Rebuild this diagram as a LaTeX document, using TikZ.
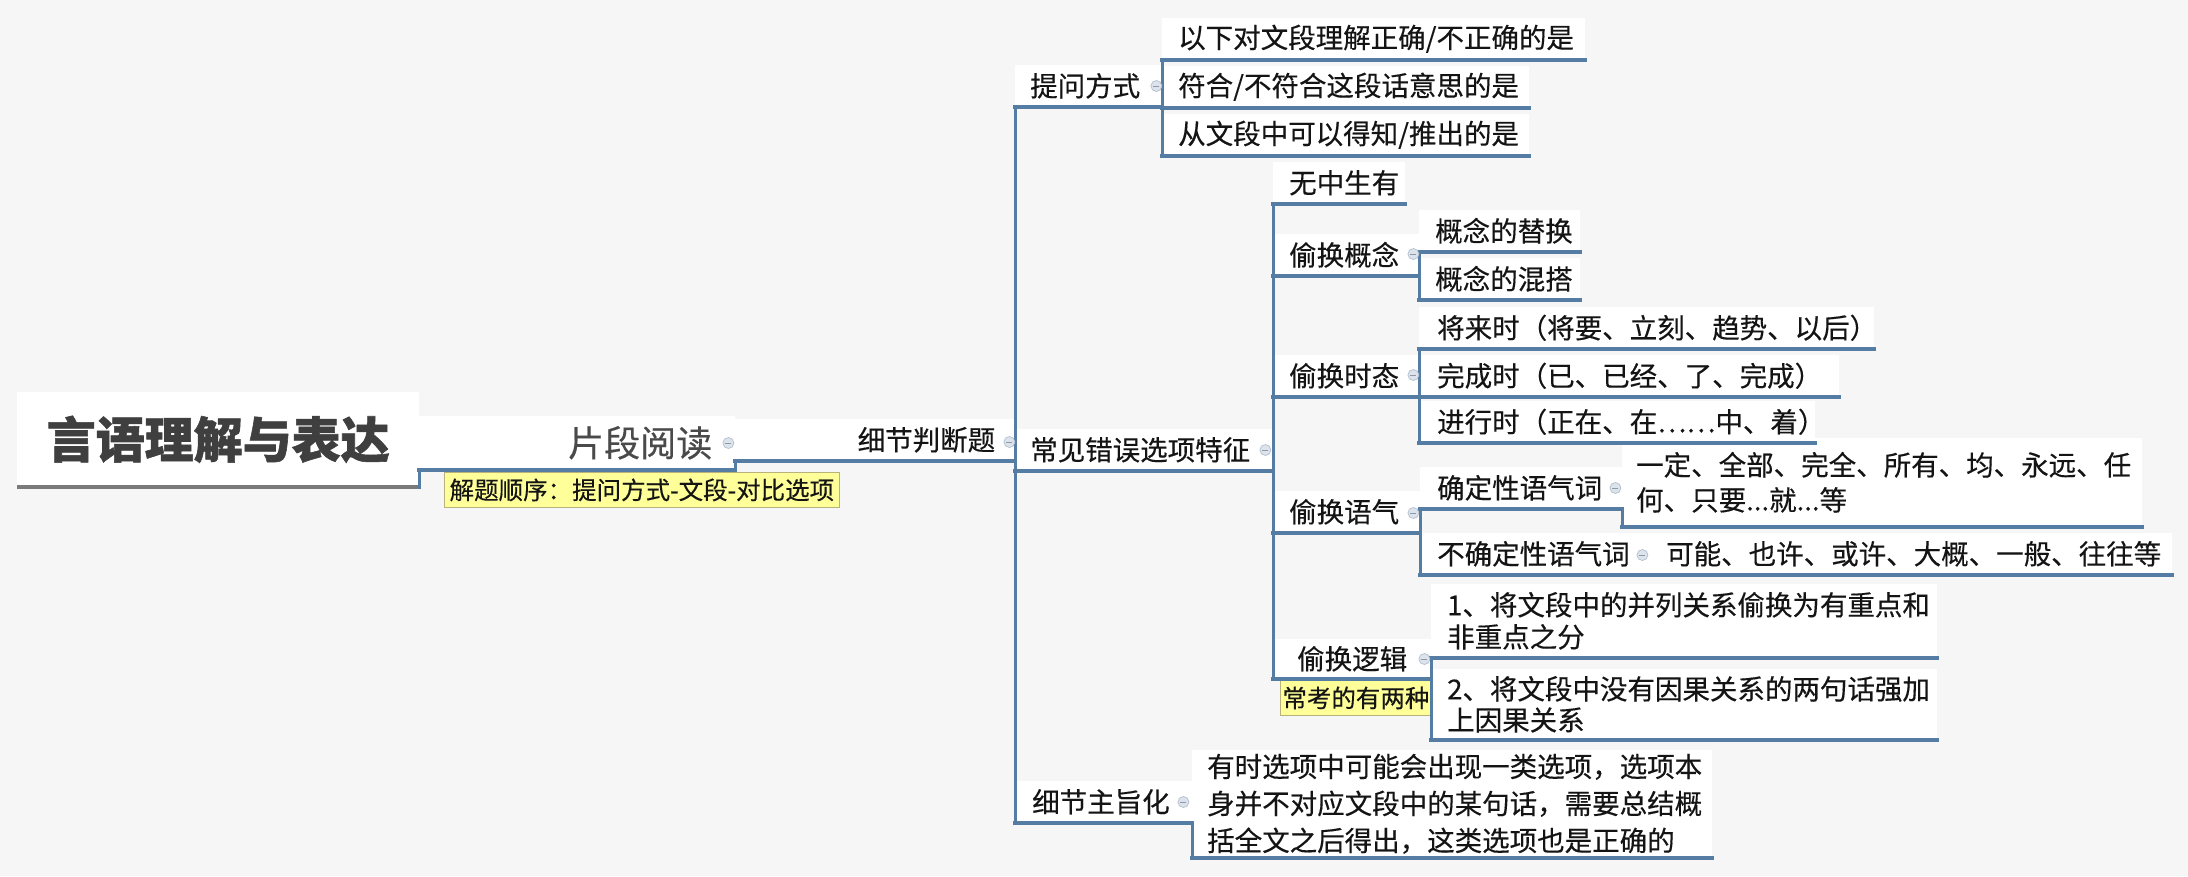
\documentclass[tikz,border=0pt]{standalone}
\usepackage{fontspec}
\setmainfont{Noto Sans CJK SC}[UprightFeatures={FakeBold=0.35}, BoldFeatures={FakeBold=1.2}]
\definecolor{lineblue}{HTML}{557CA3}
\definecolor{titlegray}{HTML}{3F3F3F}
\definecolor{pdgray}{HTML}{4A4A4A}
\definecolor{txt}{HTML}{141414}
\definecolor{bgc}{HTML}{F6F6F6}
\definecolor{noteyellow}{HTML}{FFFF99}
\definecolor{noteborder}{HTML}{B9B27A}
\definecolor{cbfill}{HTML}{DCE3EC}
\definecolor{cbdraw}{HTML}{B3BFCC}
\definecolor{ulgray}{HTML}{7A7A7A}
\tikzset{
  box/.style={rectangle, fill=white, inner sep=0pt, anchor=south west, align=left, text=txt,
    minimum height=42pt, font=\fontsize{27.5}{35}\selectfont},
  ln/.style={draw=lineblue, line width=3.5pt, line cap=rect},
  note/.style={rectangle, fill=noteyellow, draw=noteborder, line width=0.8pt, inner sep=0pt,
    anchor=north west, text=txt, font=\fontsize{24.5}{28}\selectfont},
  cb/.style={circle, minimum size=11pt, inner sep=0pt, fill=cbfill, draw=cbdraw, line width=0.7pt,
    path picture={\draw[cbdraw!80!black, line width=1pt]
      ([xshift=-3pt]path picture bounding box.center) -- ([xshift=3pt]path picture bounding box.center);}},
}
\begin{document}
\begin{tikzpicture}[x=1pt,y=-1pt]
\fill[bgc] (0,0) rectangle (2188,876);
\useasboundingbox (0,0) rectangle (2188,876);

% level 0-2
\node[box, minimum width=402pt, minimum height=95pt, align=center, text=titlegray,
  font=\fontsize{49}{55}\selectfont\bfseries] (title) at (17,487) {言语理解与表达};
\node[box, minimum width=316pt, minimum height=54pt, text width=270pt, align=right, text=pdgray,
  font=\fontsize{36}{40}\selectfont] (pd) at (419,470) {片段阅读};
\node[note, minimum width=395pt, minimum height=35pt] (pdnote) at (444,472) {解题顺序：提问方式-文段-对比选项};
\node[box, minimum width=280pt, text width=240pt, align=right] (xjpd) at (735,461) {细节判断题};

% 提问方式
\node[box, minimum width=147pt, text width=117pt] (twfs) at (1015,107) {提问方式};
\node[box, minimum width=423pt, text width=391pt] (c1) at (1162,60) {以下对文段理解正确/不正确的是};
\node[box, minimum width=367pt, text width=335pt] (c2) at (1162,108) {符合/不符合这段话意思的是};
\node[box, minimum width=367pt, text width=335pt] (c3) at (1162,156) {从文段中可以得知/推出的是};

% 常见错误选项特征
\node[box, minimum width=258pt, text width=228pt] (cjcw) at (1015,471) {常见错误选项特征};
\node[box, minimum width=132pt, text width=100pt] (wzsy) at (1273,204) {无中生有};
\node[box, minimum width=146pt, text width=114pt] (thgn) at (1273,276) {偷换概念};
\node[box, minimum width=161pt, text width=129pt] (gn1) at (1419,252) {概念的替换};
\node[box, minimum width=161pt, text width=129pt] (gn2) at (1419,300) {概念的混搭};
\node[box, minimum width=146pt, text width=114pt] (thst) at (1273,397) {偷换时态};
\node[box, minimum width=455pt, text width=419pt] (st1) at (1419,349) {将来时（将要、立刻、趋势、以后）};
\node[box, minimum width=420pt, text width=384pt] (st2) at (1419,397) {完成时（已、已经、了、完成）};
\node[box, minimum width=396pt, text width=360pt] (st3) at (1419,443) {进行时（正在、在……中、着）};
\node[box, minimum width=147pt, text width=115pt] (thyq) at (1273,533) {偷换语气};
\node[box, minimum width=202pt, text width=168pt] (qd) at (1420,509) {确定性语气词};
\node[box, minimum width=520pt, minimum height=89pt, text width=492pt] (qd1) at (1622,527)
  {一定、全部、完全、所有、均、永远、任\\何、只要...就...等};
\node[box, minimum width=230pt, text width=196pt] (bqd) at (1420,575) {不确定性语气词};
\node[box, minimum width=522pt, text width=490pt] (bqd1) at (1650,575) {可能、也许、或许、大概、一般、往往等};
\node[box, minimum width=158pt, minimum height=40pt, align=center] (thlj) at (1273,679) {偷换逻辑};
\node[note, minimum width=151pt, minimum height=35pt] (ljnote) at (1280,680) {常考的有两种};
\node[box, minimum width=506pt, minimum height=74pt, text width=474pt,
  font=\fontsize{27.5}{32}\selectfont] (lj1) at (1431,658) {1、将文段中的并列关系偷换为有重点和\\非重点之分};
\node[box, minimum width=506pt, minimum height=71pt, text width=474pt,
  font=\fontsize{27.5}{31}\selectfont] (lj2) at (1431,740) {2、将文段中没有因果关系的两句话强加\\上因果关系};

% 细节主旨化
\node[box, minimum width=177pt, text width=143pt] (xjzz) at (1015,823) {细节主旨化};
\node[box, minimum width=520pt, minimum height=108pt, text width=490pt,
  font=\fontsize{27.5}{37}\selectfont] (zz1) at (1192,858)
  {有时选项中可能会出现一类选项，选项本\\身并不对应文段中的某句话，需要总结概\\括全文之后得出，这类选项也是正确的};

% underlines
\draw[draw=ulgray, line width=4pt] (title.south west) -- (title.south east);
\foreach \n in {pd,xjpd,twfs,c1,c2,c3,cjcw,wzsy,thgn,gn1,gn2,thst,st1,st2,st3,thyq,qd,qd1,bqd,bqd1,thlj,lj1,lj2,xjzz,zz1}
  \draw[ln] (\n.south west) -- (\n.south east);

% connectors
\draw[ln] (title.south east) |- (pd.south west);
\draw[ln] (pd.south east) |- (xjpd.south west);
\foreach \c in {twfs,cjcw,xjzz} \draw[ln] (xjpd.south east) |- (\c.south west);
\foreach \c in {c1,c2,c3} \draw[ln] (twfs.south east) |- (\c.south west);
\foreach \c in {wzsy,thgn,thst,thyq,thlj} \draw[ln] (cjcw.south east) |- (\c.south west);
\foreach \c in {gn1,gn2} \draw[ln] (thgn.south east) |- (\c.south west);
\foreach \c in {st1,st2,st3} \draw[ln] (thst.south east) |- (\c.south west);
\foreach \c in {qd,bqd} \draw[ln] (thyq.south east) |- (\c.south west);
\draw[ln] (qd.south east) |- (qd1.south west);
\draw[ln] (bqd.south east) |- (bqd1.south west);
\foreach \c in {lj1,lj2} \draw[ln] (thlj.south east) |- (\c.south west);
\draw[ln] (xjzz.south east) |- (zz1.south west);

% collapse markers
\node[cb] (m1) at ([xshift=-7pt,yshift=27pt]pd.south east) {};
\node[cb] (m2) at ([xshift=-6pt,yshift=19pt]xjpd.south east) {};
\node[cb] (m3) at ([xshift=-6pt,yshift=21pt]twfs.south east) {};
\node[cb] (m4) at ([xshift=-8pt,yshift=21pt]cjcw.south east) {};
\node[cb] (m5) at ([xshift=-6pt,yshift=22pt]thgn.south east) {};
\node[cb] (m6) at ([xshift=-6pt,yshift=22pt]thst.south east) {};
\node[cb] (m7) at ([xshift=-7pt,yshift=20pt]thyq.south east) {};
\node[cb] (m8) at ([xshift=-7pt,yshift=21pt]qd.south east) {};
\node[cb] (m9) at ([xshift=-8pt,yshift=20pt]bqd.south east) {};
\node[cb] (m10) at ([xshift=-7pt,yshift=20pt]thlj.south east) {};
\node[cb] (m11) at ([xshift=-9pt,yshift=21pt]xjzz.south east) {};
\end{tikzpicture}
\end{document}
